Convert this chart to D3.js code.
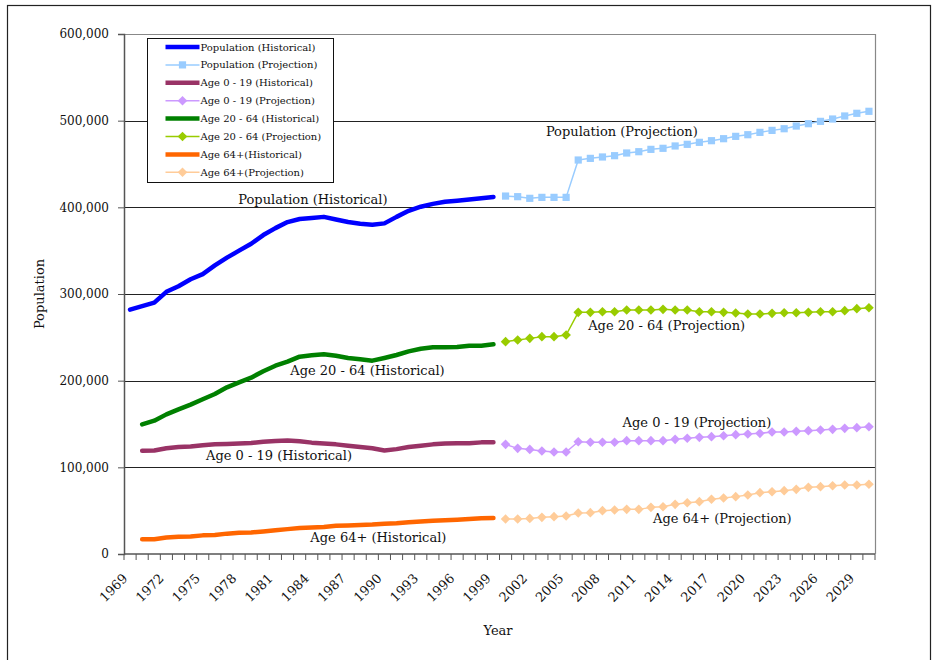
<!DOCTYPE html>
<html>
<head>
<meta charset="utf-8">
<style>
  body { margin: 0; background: #fff; }
  svg text { font-family: "DejaVu Serif", serif; fill: #111; }
</style>
</head>
<body>
<svg id="chart" width="934" height="660"></svg>
<script src="https://d3js.org/d3.v7.min.js"></script>
<script>
// categories
const years = d3.range(1969, 2031);
const histYears = d3.range(1969, 2000);
const projYears = d3.range(2000, 2031);
const yTicks = [0, 100000, 200000, 300000, 400000, 500000, 600000];

// historical series 1969-1999 (age groups start 1970)
const popHist = [282000, 286000, 290000, 302500, 309000, 317000, 323000, 333000, 342000, 350000,
  358000, 368000, 376000, 383000, 386500, 387700, 389000, 386000, 383000, 381000,
  380000, 381500, 389000, 396000, 400700, 404000, 406500, 407700, 409000, 410400, 412000];
const age0to19Hist = [null, 119200, 119400, 122000, 123500, 124000, 125500, 126500, 127000, 127500,
  128000, 129500, 130500, 131000, 130000, 128500, 127500, 126500, 125000, 123500,
  122000, 119500, 121000, 123500, 125000, 126500, 127500, 127700, 127700, 128800, 129000];
const age20to64Hist = [null, 149600, 153800, 161100, 166900, 172300, 178500, 184600, 192300, 198100,
  203500, 210800, 217300, 221900, 227700, 229200, 230400, 228800, 226200, 224600,
  223100, 226200, 229600, 233800, 236900, 238500, 238500, 238800, 240400, 240400, 241900];
const age64Hist = [null, 17000, 17000, 19000, 20000, 20300, 21500, 22000, 23500, 24500,
  24800, 26000, 27500, 28700, 30000, 30500, 31200, 32500, 33000, 33500,
  34000, 35000, 35500, 36500, 37500, 38300, 39000, 39600, 40500, 41300, 41500];

// projection series 2000-2030
const popProj = [413000, 412300, 410400, 411500, 411500, 411500, 454600, 456500, 458100, 459600,
  462700, 464200, 466900, 468100, 470800, 472700, 475000, 476900, 479200, 481900,
  483800, 486500, 488800, 490700, 493800, 496500, 499200, 501900, 505400, 508500, 510800];
const age0to19Proj = [126500, 121900, 120700, 118800, 117700, 117700, 129500, 129000, 129000, 129000,
  130800, 130800, 130800, 130800, 132300, 133500, 134600, 135400, 136500, 137700,
  138500, 139200, 140800, 140800, 141500, 142300, 143100, 143800, 145000, 145800, 146900];
const age20to64Proj = [245000, 246900, 248800, 250800, 250800, 252700, 278800, 278800, 279600, 279600,
  281500, 281500, 281500, 282300, 281500, 281500, 279600, 279600, 278800, 278100,
  276900, 276900, 277700, 278400, 278400, 278800, 279600, 279600, 280800, 283100, 284200];
const age64Proj = [40400, 40400, 41100, 42300, 43100, 43800, 47300, 47700, 50000, 50800,
  51500, 51500, 53800, 54600, 57300, 59200, 60400, 63100, 64600, 66200,
  68100, 70800, 71900, 73100, 74600, 76900, 77700, 78800, 79600, 79600, 80400];

const seriesNames = ["Population (Historical)", "Population (Projection)",
  "Age 0 - 19 (Historical)", "Age 0 - 19 (Projection)",
  "Age 20 - 64 (Historical)", "Age 20 - 64 (Projection)",
  "Age 64+(Historical)", "Age 64+(Projection)"];

const lineLabels = ["Population (Historical)", "Population (Projection)",
  "Age 20 - 64 (Historical)", "Age 20 - 64 (Projection)",
  "Age 0 - 19 (Historical)", "Age 0 - 19 (Projection)",
  "Age 64+ (Historical)", "Age 64+ (Projection)"];
const labelYears = [1984.1, 2009.6, 1988.6, 2013.3, 1981.3, 2015.8, 1989.5, 2017.9];
const labelValues = [404000, 482300, 206500, 258500, 108500, 146500, 13800, 35800];

// ---- layout ----
const svg = d3.select("#chart");
const plot = { left: 124, right: 875, top: 34, bottom: 554 };

const x = d3.scaleBand().domain(years).range([plot.left, plot.right]).padding(0);
const bw = x.bandwidth();
const cx = d => x(d) + bw / 2;
const xLin = d3.scaleLinear().domain([1969, 2030]).range([cx(1969), cx(2030)]);
const y = d3.scaleLinear().domain([0, 600000]).range([plot.bottom, plot.top]);

// outer frame
svg.append("rect")
  .attr("x", 7.5).attr("y", 5.5).attr("width", 923).attr("height", 660)
  .attr("fill", "none").attr("stroke", "#222").attr("stroke-width", 1.2);

// gridlines
svg.append("g")
  .selectAll("line")
  .data(yTicks.filter(d => d > 0 && d < 600000))
  .join("line")
  .attr("x1", plot.left).attr("x2", plot.right)
  .attr("y1", d => Math.round(y(d)) + 0.5).attr("y2", d => Math.round(y(d)) + 0.5)
  .attr("stroke", "#222").attr("stroke-width", 1);

// plot border (top + right)
svg.append("path")
  .attr("d", `M${plot.left},${plot.top + 0.5}H${plot.right + 0.5}V${plot.bottom}`)
  .attr("fill", "none").attr("stroke", "#888").attr("stroke-width", 1.2);

// y axis
const yAxis = svg.append("g")
  .attr("transform", `translate(${plot.left},0)`)
  .call(d3.axisLeft(y).tickValues(yTicks).tickSize(6).tickPadding(9)
    .tickFormat(d3.format(",")));
yAxis.select(".domain").attr("stroke", "#555").attr("stroke-width", 1.5);
yAxis.selectAll(".tick line").attr("stroke", "#555");
yAxis.selectAll(".tick text").attr("font-size", 12).attr("fill", "#222")
  .style("font-family", "DejaVu Serif");

// x axis: line + ticks at category boundaries
svg.append("line")
  .attr("x1", plot.left).attr("x2", plot.right)
  .attr("y1", plot.bottom).attr("y2", plot.bottom)
  .attr("stroke", "#555").attr("stroke-width", 1.5);
svg.append("g")
  .selectAll("line")
  .data(years.concat([null]))
  .join("line")
  .attr("x1", d => d === null ? plot.right : x(d))
  .attr("x2", d => d === null ? plot.right : x(d))
  .attr("y1", plot.bottom).attr("y2", plot.bottom + 6)
  .attr("stroke", "#555").attr("stroke-width", 1);

// x labels
svg.append("g")
  .selectAll("text")
  .data(years.filter((d, i) => i % 3 === 0))
  .join("text")
  .attr("transform", d => `translate(${cx(d) - 5},${plot.bottom + 22}) rotate(-45)`)
  .attr("text-anchor", "end")
  .attr("dy", "0.35em")
  .attr("font-size", 13)
  .text(d => d);

// axis titles
svg.append("text")
  .attr("transform", `translate(44,294) rotate(-90)`)
  .attr("text-anchor", "middle")
  .attr("font-size", 13)
  .text("Population");
svg.append("text")
  .attr("x", 498).attr("y", 635)
  .attr("text-anchor", "middle")
  .attr("font-size", 13)
  .text("Year");

// series
const series = [
  { name: seriesNames[0], yrs: histYears, vals: popHist, color: "#0000FF", proj: false },
  { name: seriesNames[1], yrs: projYears, vals: popProj, color: "#99CCFF", proj: true, marker: "square" },
  { name: seriesNames[2], yrs: histYears, vals: age0to19Hist, color: "#993366", proj: false },
  { name: seriesNames[3], yrs: projYears, vals: age0to19Proj, color: "#CC99FF", proj: true, marker: "diamond" },
  { name: seriesNames[4], yrs: histYears, vals: age20to64Hist, color: "#008000", proj: false },
  { name: seriesNames[5], yrs: projYears, vals: age20to64Proj, color: "#99CC00", proj: true, marker: "diamond" },
  { name: seriesNames[6], yrs: histYears, vals: age64Hist, color: "#FF6600", proj: false },
  { name: seriesNames[7], yrs: projYears, vals: age64Proj, color: "#FFCC99", proj: true, marker: "diamond" }
];

const line = d3.line()
  .defined(d => d.v !== null)
  .x(d => cx(d.yr))
  .y(d => y(d.v));

// square as in the original; diamond is a square turned 45 degrees
const markerPath = (type) => type === "square"
  ? "M-3.6,-3.6H3.6V3.6H-3.6Z"
  : "M0,-4.8L4.8,0L0,4.8L-4.8,0Z";

series.forEach(s => {
  const pts = s.yrs.map((yr, i) => ({ yr, v: s.vals[i] }));
  svg.append("path")
    .datum(pts)
    .attr("d", line)
    .attr("fill", "none")
    .attr("stroke", s.color)
    .attr("stroke-width", s.proj ? 1.5 : 4.5)
    .attr("stroke-linejoin", "round")
    .attr("stroke-linecap", "round");
  if (s.proj) {
    svg.append("g")
      .selectAll("path")
      .data(pts)
      .join("path")
      .attr("transform", d => `translate(${cx(d.yr)},${y(d.v)})`)
      .attr("d", markerPath(s.marker))
      .attr("fill", s.color);
  }
});

// line labels
svg.append("g")
  .selectAll("text")
  .data(lineLabels)
  .join("text")
  .attr("x", (d, i) => xLin(labelYears[i]))
  .attr("y", (d, i) => y(labelValues[i]))
  .attr("text-anchor", "middle")
  .attr("font-size", 13)
  .text(d => d);

// legend
const legend = svg.append("g").attr("transform", "translate(147.5,38.5)");
legend.append("rect")
  .attr("width", 186).attr("height", 144)
  .attr("fill", "#fff").attr("stroke", "#111").attr("stroke-width", 1);
const rowY = i => 8.5 + i * 17.9;
series.forEach((s, i) => {
  const g = legend.append("g").attr("transform", `translate(0,${rowY(i)})`);
  g.append("line")
    .attr("x1", 18).attr("x2", 52)
    .attr("stroke", s.color)
    .attr("stroke-width", s.proj ? 1.5 : 4.5);
  if (s.proj) {
    g.append("path")
      .attr("transform", "translate(35,0)")
      .attr("d", markerPath(s.marker))
      .attr("fill", s.color);
  }
  g.append("text")
    .attr("x", 53).attr("dy", "0.35em")
    .attr("font-size", 10)
    .text(s.name);
});
</script>
</body>
</html>
